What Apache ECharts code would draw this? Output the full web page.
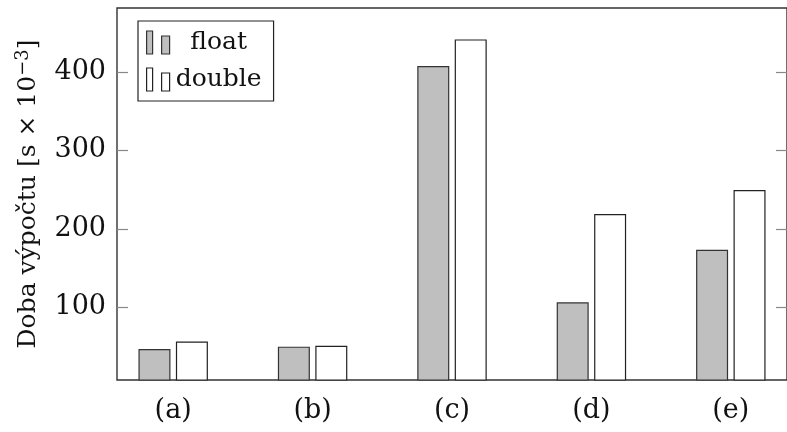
<!DOCTYPE html>
<html>
<head>
<meta charset="utf-8">
<script src="https://cdn.jsdelivr.net/npm/echarts@6/dist/echarts.min.js"></script>
<style>
  html, body { margin: 0; padding: 0; background: #fff; }
  #chart { width: 787px; height: 432px; }
</style>
</head>
<body>
<div id="chart"></div>
<script>
const CATEGORIES = ["(a)", "(b)", "(c)", "(d)", "(e)"];
const FLOAT_VALUES = [47, 50, 407.5, 106.5, 173.5];
const DOUBLE_VALUES = [56.5, 51, 441.5, 219, 249.5];
const Y_TICKS = [100, 200, 300, 400];
const X_TICKS = [0, 1, 2, 3, 4];

const FONT = "DejaVu Serif";
const FS = 27;
const LEGEND_ICON = "path://M0,0 L6,0 L6,23 L0,23 Z M15,5 L23,5 L23,23 L15,23 Z";

const chart = echarts.init(document.getElementById("chart"), null, { renderer: "canvas" });

const toPairs = (vals) => vals.map((v, i) => [i, v]);

const barSeries = (name, values, fill, border) => ({
  name: name,
  type: "bar",
  data: toPairs(values),
  barWidth: 32,
  barGap: "17%",
  clip: true,
  itemStyle: { color: fill, borderColor: border, borderWidth: 1.2 },
});

const tickStyle = { inside: true, length: 11, customValues: Y_TICKS, lineStyle: { color: "#888", width: 1.2 } };

chart.setOption({
  animation: false,
  backgroundColor: "#fff",
  textStyle: { fontFamily: FONT },
  grid: {
    left: 117,
    top: 8,
    width: 677,
    bottom: 52,
    show: true,
    borderColor: "#333",
    borderWidth: 1.4,
  },
  legend: {
    orient: "vertical",
    left: 138,
    top: 21,
    padding: [9, 12, 9, 8],
    itemGap: 12,
    itemWidth: 23,
    itemHeight: 23,
    itemStyle: { borderWidth: 1.2 },
    icon: LEGEND_ICON,
    backgroundColor: "#fff",
    borderColor: "#222",
    borderWidth: 1.2,
    borderRadius: 0,
    formatter: (n) => "{t|" + n + "}",
    textStyle: {
      fontFamily: FONT,
      fontSize: 25,
      color: "#111",
      rich: { t: { fontFamily: FONT, fontSize: 25, color: "#111", width: 88, align: "center" } },
    },
  },
  xAxis: {
    type: "value",
    min: -0.403,
    max: 4.403,
    splitLine: { show: false },
    axisLine: { show: false, onZero: false },
    axisTick: { show: false },
    axisLabel: {
      customValues: X_TICKS,
      formatter: (v) => CATEGORIES[Math.round(v)] || "",
      fontFamily: FONT,
      fontSize: FS,
      color: "#111",
      margin: 17,
    },
  },
  yAxis: [
    {
      type: "value",
      min: 7.5,
      max: 481.5,
      position: "left",
      splitLine: { show: false },
      axisLine: { show: false, onZero: false },
      axisTick: tickStyle,
      axisLabel: { customValues: Y_TICKS, fontFamily: FONT, fontSize: FS, color: "#111", margin: 11 },
      name: "Doba výpočtu [s × 10{sup|−3}]",
      nameLocation: "middle",
      nameGap: 74,
      nameTextStyle: {
        fontFamily: FONT,
        fontSize: 25,
        color: "#111",
        rich: { sup: { fontFamily: FONT, fontSize: 18, color: "#111", verticalAlign: "top", padding: [0, 0, 11, 0] } },
      },
    },
    {
      type: "value",
      min: 7.5,
      max: 481.5,
      position: "right",
      splitLine: { show: false },
      axisLine: { show: false, onZero: false },
      axisTick: tickStyle,
      axisLabel: { show: false },
    },
  ],
  series: [
    barSeries("float", FLOAT_VALUES, "#bfbfbf", "#333"),
    barSeries("double", DOUBLE_VALUES, "#ffffff", "#222"),
  ],
});
</script>
</body>
</html>
